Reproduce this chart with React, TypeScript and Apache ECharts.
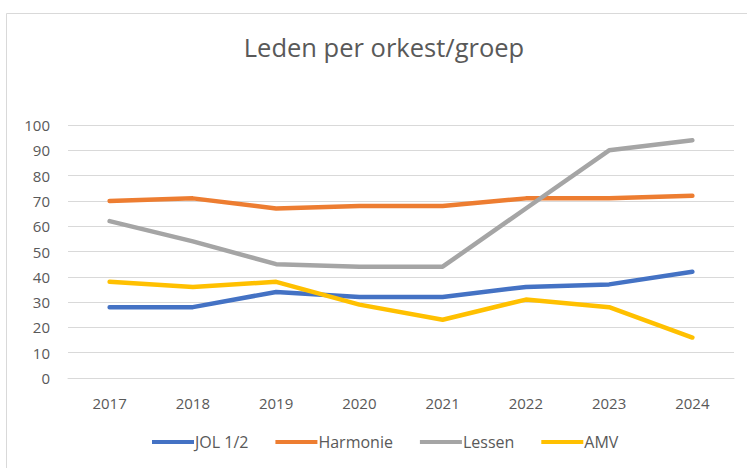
import React, { useEffect, useRef } from "react";
import * as echarts from "echarts";

const categories = ["2017", "2018", "2019", "2020", "2021", "2022", "2023", "2024"];
const jol = [28, 28, 34, 32, 32, 36, 37, 42];
const harmonie = [70, 71, 67, 68, 68, 71, 71, 72];
const lessen = [62, 54, 45, 44, 44, 67, 90, 94];
const amv = [38, 36, 38, 29, 23, 31, 28, 16];
const seriesNames = ["JOL 1/2", "Harmonie", "Lessen", "AMV"];
const colors = ["#4472C4", "#ED7D31", "#A5A5A5", "#FFC000"];

export default function App() {
  const ref = useRef<HTMLDivElement>(null);
  useEffect(() => {
    document.body.style.margin = "0";
    const chart = echarts.init(ref.current!, null, { renderer: "svg" });
    const data = [jol, harmonie, lessen, amv];
    chart.setOption({
      animation: false,
      backgroundColor: "#ffffff",
      title: {
        text: "Leden per orkest/groep",
        left: 379,
        textAlign: "center",
        top: 29,
        textStyle: { fontFamily: "Open Sans", fontSize: 25.5, fontWeight: "normal", color: "#595959" },
      },
      graphic: [
        {
          type: "rect",
          shape: { x: 6.5, y: 13.5, width: 760, height: 480 },
          style: { fill: "none", stroke: "#D9D9D9", lineWidth: 1 },
          silent: true,
        },
      ],
      legend: {
        data: seriesNames,
        left: 147,
        top: 429,
        icon: "rect",
        itemWidth: 42,
        itemHeight: 4,
        itemGap: 27,
        textStyle: { fontFamily: "Open Sans", fontSize: 16, color: "#595959", padding: [0, 0, 0, -4] },
      },
      grid: { left: 68, right: 13, top: 125, bottom: 90, containLabel: false },
      xAxis: {
        type: "category",
        data: categories,
        boundaryGap: true,
        axisLine: { lineStyle: { color: "#D9D9D9" } },
        axisTick: { show: false },
        axisLabel: { fontFamily: "Open Sans", fontSize: 15, color: "#595959", margin: 17 },
      },
      yAxis: {
        type: "value",
        min: 0,
        max: 100,
        interval: 10,
        axisLine: { show: false },
        axisTick: { show: false },
        splitLine: { lineStyle: { color: "#D9D9D9" } },
        axisLabel: { fontFamily: "Open Sans", fontSize: 15, color: "#595959", margin: 18 },
      },
      series: seriesNames.map((name, i) => ({
        name,
        type: "line",
        data: data[i],
        symbol: "none",
        lineStyle: { width: 4.5, color: colors[i], cap: "round", join: "round" },
        itemStyle: { color: colors[i] },
      })),
    });
    return () => chart.dispose();
  }, []);
  return <div ref={ref} style={{ width: 747, height: 468 }} />;
}
